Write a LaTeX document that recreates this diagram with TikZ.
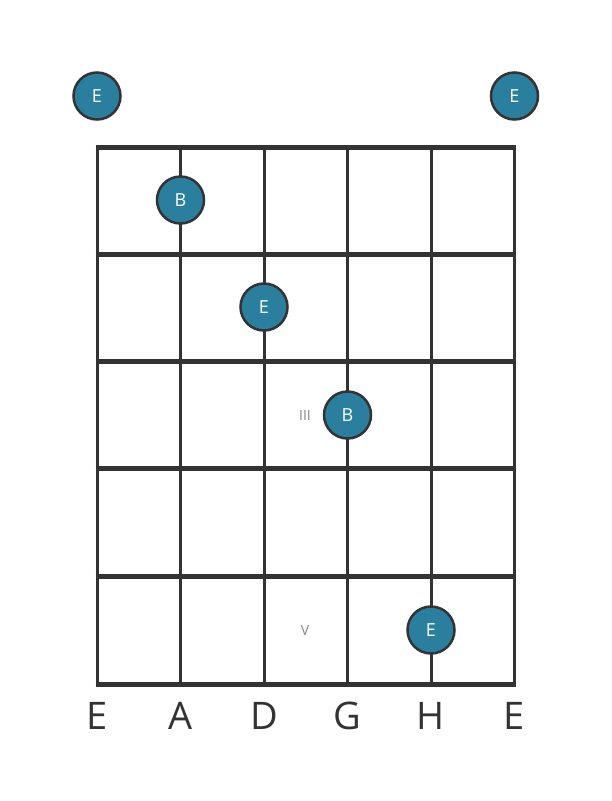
\documentclass[tikz,border=0pt]{standalone}
\usepackage{fontspec}
\setmainfont{Open Sans}
\definecolor{dotfill}{HTML}{2A7F9E}
\definecolor{linec}{HTML}{333333}
\definecolor{markc}{HTML}{888888}
\begin{document}
\begin{tikzpicture}[x=1pt,y=-1pt,
  fret/.style={draw=linec,line width=5pt},
  stringline/.style={draw=linec,line width=3pt},
  notedot/.style={circle,draw=linec,line width=2.5pt,fill=dotfill,minimum size=47pt,inner sep=0pt,text=white,font=\fontsize{18}{18}\selectfont},
  strlabel/.style={text=linec,font=\fontsize{38}{38}\selectfont,inner sep=0pt},
  fretmark/.style={text=markc,font=\fontsize{14}{14}\selectfont,inner sep=0pt}]
\useasboundingbox[fill=white] (0,0) rectangle (611,801);
% strings
\foreach \x [count=\i] in {97,180.5,264,347.5,431,514.5}{
  \coordinate (s\i t) at (\x,147);
  \coordinate (s\i b) at (\x,684);
  \draw[stringline] (s\i t) -- (s\i b);
}
% frets
\foreach \y [count=\j] in {147,254,361,468,576,684}{
  \coordinate (f\j l) at (95.5,\y);
  \coordinate (f\j r) at (516,\y);
  \draw[fret] (f\j l) -- (f\j r);
}
% open strings
\node[notedot] (o1) at (97,96) {E};
\node[notedot] (o6) at (514.5,96) {E};
% fretted notes
\node[notedot] (n1) at (180.5,200) {B};
\node[notedot] (n2) at (264,307) {E};
\node[notedot] (n3) at (347.5,415) {B};
\node[notedot] (n4) at (431,630) {E};
% fret markers
\node[fretmark] (m3) at (305,415) {III};
\node[fretmark] (m5) at (305,630) {V};
% string names
\node[strlabel] (l1) at (97,716) {E};
\node[strlabel] (l2) at (180.5,716) {A};
\node[strlabel] (l3) at (264,716) {D};
\node[strlabel] (l4) at (347.5,716) {G};
\node[strlabel] (l5) at (431,716) {H};
\node[strlabel] (l6) at (514.5,716) {E};
\end{tikzpicture}
\end{document}
